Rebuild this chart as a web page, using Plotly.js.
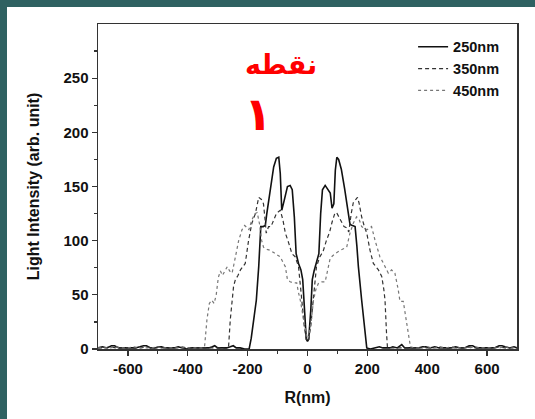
<!DOCTYPE html>
<html>
<head>
<meta charset="utf-8">
<script src="https://cdn.plot.ly/plotly-3.0.1.min.js"></script>
<style>
html,body{margin:0;padding:0;background:#2f6161;width:535px;height:419px;overflow:hidden;}
#chart{position:absolute;left:7px;top:7px;width:528px;height:412px;background:#fff;}
</style>
</head>
<body>
<div id="chart"></div>
<script>
// 250nm (solid)
const s250x = [-700,-685,-670,-655,-645,-630,-610,-590,-575,-560,-548,-538,-525,-510,-498,-488,-475,-460,-445,-432,-420,-405,-390,-375,-360,-345,-330,-318,-310,-300,-285,-270,-258,-248,-238,-225,-210,-195,-188,-180,-171,-163,-156,-148,-141,-136,-124,-113,-104,-96,-91,-86,-78,-67,-58,-51,-44,-38,-30,-22,-16,-11,-4,0,4,11,16,22,30,38,44,50,59,66,76,82,88,93,98,104,113,124,136,142,150,159,165,170,181,192,198,210,225,240,252,262,275,285,300,315,325,340,355,370,385,395,410,425,440,452,465,480,495,510,525,540,552,565,580,595,610,625,640,650,660,675,690,700];
const s250y = [1,2,1,3,3,1,1,1,1,2,3,3,1,1,2,2,1,1,1,2,1,0,1,1,1,1,1,2,3,1,1,1,2,3,1,1,0,0,10,27,45,76,113,113,114,125,150,168,176,177,162,128,137,150,151,147,122,88,79,73,64,36,9,7,9,36,64,72,79,88,125,147,151,148,144,130,134,165,177,175,166,148,126,115,114,113,95,76,45,15,1,0,1,2,1,1,1,2,1,4,1,1,1,1,2,2,1,2,1,1,1,1,2,1,1,3,3,1,1,1,1,1,3,3,2,1,2,1];

// 350nm (dashed)
const s350x = [-700,-680,-660,-640,-620,-600,-580,-560,-540,-520,-500,-480,-460,-440,-420,-400,-380,-360,-340,-320,-300,-285,-270,-264,-258,-252,-247,-241,-232,-224,-216,-208,-197,-186,-174,-168,-163,-154,-147,-142,-138,-130,-122,-113,-104,-96,-91,-82,-74,-63,-52,-41,-30,-19,-11,-4,0,4,11,19,30,41,52,63,74,82,91,97,104,113,122,130,138,146,153,161,167,172,181,190,198,209,220,237,248,255,259,264,267,280,300,320,340,360,380,400,420,440,460,480,500,520,540,560,580,600,620,640,660,680,700];
const s350y = [1,1,2,1,1,1,1,1,2,1,1,1,1,1,2,1,1,1,1,1,1,1,0,1,27,45,58,64,68,73,76,79,100,116,125,133,140,138,134,120,107,113,113,119,125,127,128,119,107,98,88,85,76,45,21,9,7,9,21,45,76,85,90,100,108,117,125,126,122,117,113,112,108,125,135,138,140,135,122,113,107,91,79,73,67,55,45,15,2,1,1,1,1,1,1,1,1,2,1,1,1,1,2,1,1,1,1,2,1,1,1];

// 450nm (dotted)
const s450x = [-700,-680,-660,-640,-620,-600,-580,-560,-540,-520,-500,-480,-460,-440,-420,-400,-380,-360,-350,-344,-336,-328,-320,-312,-305,-298,-291,-284,-276,-268,-260,-252,-246,-241,-230,-219,-210,-202,-196,-186,-176,-168,-160,-153,-147,-135,-124,-113,-102,-91,-80,-74,-67,-58,-47,-36,-30,-24,-13,-4,0,4,13,20,28,37,48,59,66,76,92,109,131,142,153,164,172,181,198,214,226,242,252,259,270,281,292,303,309,320,331,338,344,360,380,400,420,440,460,480,500,520,540,560,580,600,620,640,660,680,700];
const s450y = [1,1,1,2,1,1,2,1,1,1,2,1,1,1,1,1,1,1,1,2,27,42,45,42,50,66,72,68,72,76,72,70,78,85,100,110,114,112,110,119,125,126,115,100,94,92,91,89,87,85,79,76,64,62,61,61,52,45,27,12,9,12,27,45,55,61,62,62,70,84,88,91,94,107,116,122,120,113,110,113,100,85,80,76,70,73,70,55,44,44,24,10,2,1,1,2,1,1,1,2,1,1,1,2,1,1,1,1,2,1,1];

const seriesNames = ['250nm','350nm','450nm'];
const xTicks = [-600,-400,-200,0,200,400,600];
const yTicks = [0,50,100,150,200,250];
const noteWord = 'نقطه';
const noteNum = '١';

const baseFont = 'Liberation Sans, Arial, Helvetica, sans-serif';

const traces = [
  {x:s250x, y:s250y, name:seriesNames[0], mode:'lines', line:{color:'#111', width:1.6, dash:'solid'}},
  {x:s350x, y:s350y, name:seriesNames[1], mode:'lines', line:{color:'#333', width:1.2, dash:'4px,3px'}},
  {x:s450x, y:s450y, name:seriesNames[2], mode:'lines', line:{color:'#777', width:1.2, dash:'dot'}}
];

const layout = {
  width:528, height:412,
  margin:{l:91, r:18, t:17, b:70},
  paper_bgcolor:'#ffffff', plot_bgcolor:'#ffffff',
  showlegend:true,
  legend:{x:0.752, y:0.979, xanchor:'left', yanchor:'top', bgcolor:'rgba(0,0,0,0)',
          font:{family:baseFont, size:14.5, color:'#111', weight:'bold'}},
  xaxis:{range:[-700,700], tickvals:xTicks, ticktext:xTicks.map(String), ticks:'outside', ticklen:5, tickwidth:1.3,
         tickcolor:'#333', showline:true, linecolor:'#333', linewidth:1.5, mirror:true, showgrid:false, zeroline:false,
         minor:{tickvals:[-500,-300,-100,100,300,500], ticks:'outside', ticklen:3, tickwidth:1.2, tickcolor:'#333'},
         tickfont:{family:baseFont, size:15, color:'#111', weight:'bold'},
         title:{text:'R(nm)', standoff:16, font:{family:baseFont, size:16, color:'#111', weight:'bold'}}},
  yaxis:{range:[0,300], tickvals:yTicks, ticktext:yTicks.map(String), ticks:'outside', ticklen:5, tickwidth:1.3,
         tickcolor:'#333', showline:true, linecolor:'#333', linewidth:1.5, mirror:true, showgrid:false, zeroline:false,
         minor:{tickvals:[25,75,125,175,225,275], ticks:'outside', ticklen:3, tickwidth:1.2, tickcolor:'#333'},
         tickfont:{family:baseFont, size:15, color:'#111', weight:'bold'},
         title:{text:'Light Intensity (arb. unit)', standoff:20, font:{family:baseFont, size:16, color:'#111', weight:'bold'}}},
  annotations:[
    {xref:'paper', yref:'paper', x:0.4368, y:0.928, text:noteWord, showarrow:false,
     font:{family:'DejaVu Sans, Noto Sans, sans-serif', size:27, color:'#ff0000', weight:'bold'}},
    {xref:'paper', yref:'paper', x:0.382, y:0.812, text:noteNum, showarrow:false,
     font:{family:'DejaVu Sans, Noto Sans, sans-serif', size:46, color:'#ff0000', weight:'bold'}}
  ]
};

Plotly.newPlot('chart', traces, layout, {displayModeBar:false, staticPlot:true});
</script>
</body>
</html>
